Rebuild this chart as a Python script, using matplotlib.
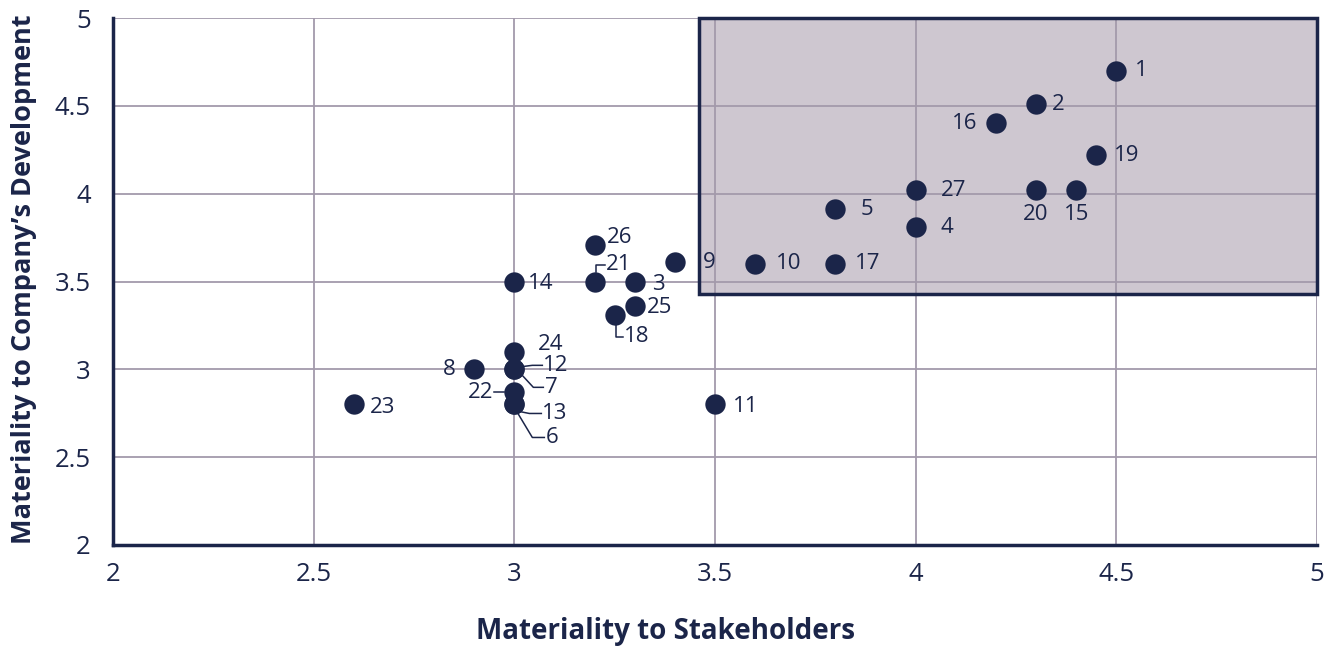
import matplotlib.pyplot as plt
from matplotlib.patches import Rectangle

plt.rcParams['font.family'] = ['Open Sans', 'DejaVu Sans']

NAVY = "#1B2549"
GRID = "#A39AAB"
BOX = "#CEC7D0"

# ---- data -------------------------------------------------------------
ids = [1, 2, 16, 19, 27, 20, 15, 5, 4, 9, 10, 17, 26, 21, 3, 14, 25, 18,
       24, 12, 7, 8, 22, 13, 6, 23, 11]
stakeholders = [4.5, 4.3, 4.2, 4.45, 4.0, 4.3, 4.4, 3.8, 4.0, 3.4, 3.6, 3.8,
                3.2, 3.2, 3.3, 3.0, 3.3, 3.25, 3.0, 3.0, 3.0, 2.9, 3.0, 3.0,
                3.0, 2.6, 3.5]
development = [4.7, 4.51, 4.4, 4.22, 4.02, 4.02, 4.02, 3.91, 3.81, 3.61, 3.6,
               3.6, 3.71, 3.5, 3.5, 3.5, 3.36, 3.31, 3.1, 3.0, 3.0, 3.0, 2.87,
               2.8, 2.8, 2.8, 2.8]
ticks = [2, 2.5, 3, 3.5, 4, 4.5, 5]
tick_labels = ["2", "2.5", "3", "3.5", "4", "4.5", "5"]

# priority region (lower-left corner)
box_x0, box_y0 = 3.46, 3.43

# ---- label layout (pixel offsets from dot centre, y up) ----------------
label_pos = {
    1: (19, 0, "left"), 2: (16, 0, "left"), 16: (-18, 0, "right"),
    19: (18, 0, "left"), 27: (25, 0, "left"), 20: (0, -24, "center"),
    15: (0, -24, "center"), 5: (25, 0, "left"), 4: (25, 0, "left"),
    9: (28, 0, "left"), 10: (21, 0, "left"), 17: (20, 0, "left"),
    26: (12, 7, "left"), 21: (11, 17, "left"), 3: (17, -3, "left"),
    14: (14, -2, "left"), 25: (12, -1, "left"), 18: (9, -22, "left"),
    24: (24, 7, "left"), 12: (29, 4, "left"), 7: (31, -18, "left"),
    8: (-19, 0, "right"), 22: (-21, 0, "right"), 13: (28, -9, "left"),
    6: (31, -33, "left"), 23: (16, -3, "left"), 11: (18, -2, "left"),
}
leaders = {
    21: [(1, 10), (1, 17), (10, 17)],
    18: [(1, -9), (1, -22), (8, -22)],
    12: [(10, 3), (18, 4), (28, 4)],
    7: [(7, -5), (19, -18), (29, -18)],
    22: [(-20, 0), (-10, 0)],
    13: [(5, -7), (15, -9), (27, -9)],
    6: [(3, -8), (18, -33), (30, -33)],
}

fig = plt.figure(figsize=(13.41, 6.5), dpi=100)
ax = fig.add_axes([113 / 1341, 1 - 545 / 650, 1204 / 1341, 527 / 650])

ax.set_xlim(2, 5)
ax.set_ylim(2, 5)
ax.set_xticks(ticks)
ax.set_yticks(ticks)
ax.set_xticklabels(tick_labels)
ax.set_yticklabels(tick_labels)
ax.tick_params(length=0, labelsize=18.5, colors=NAVY)
ax.tick_params(axis="x", pad=12)
ax.tick_params(axis="y", pad=16)
ax.grid(True, color=GRID, linewidth=1.3, zorder=0)
ax.set_axisbelow(True)

for s in ["top", "right"]:
    ax.spines[s].set_visible(False)
for s in ["left", "bottom"]:
    ax.spines[s].set_color(NAVY)
    ax.spines[s].set_linewidth(2.5)
    ax.spines[s].set_zorder(5)

ax.add_patch(Rectangle((box_x0, box_y0), 5 - box_x0, 5 - box_y0,
                       facecolor=BOX, edgecolor="none", zorder=0.5))
ax.add_patch(Rectangle((box_x0, box_y0), 5 - box_x0, 5 - box_y0,
                       facecolor="none", edgecolor=NAVY, linewidth=2.5,
                       zorder=2, clip_on=False))

ax.scatter(stakeholders, development, s=215, color=NAVY, zorder=4,
           linewidths=0)

fig.canvas.draw()
to_px = ax.transData.transform
for i, x, y in zip(ids, stakeholders, development):
    px, py = to_px((x, y))
    dx, dy, ha = label_pos[i]
    fig.text(px + dx, py + dy, str(i), transform=None, ha=ha, va="center",
             fontsize=16, color=NAVY)
    if i in leaders:
        xs = [px + a for a, b in leaders[i]]
        ys = [py + b for a, b in leaders[i]]
        fig.lines.append(plt.Line2D(xs, ys, transform=None, color=NAVY,
                                    linewidth=1.1))

fig.text(665, 650 - 632, "Materiality to Stakeholders", transform=None,
         ha="center", va="center", fontsize=20, fontweight="bold", color=NAVY)
fig.text(24, 650 - 279, "Materiality to Company\u2019s Development",
         transform=None, ha="center", va="center", rotation=90,
         fontsize=19.5, fontweight="bold", color=NAVY)

fig.savefig("out.png", dpi=100)
